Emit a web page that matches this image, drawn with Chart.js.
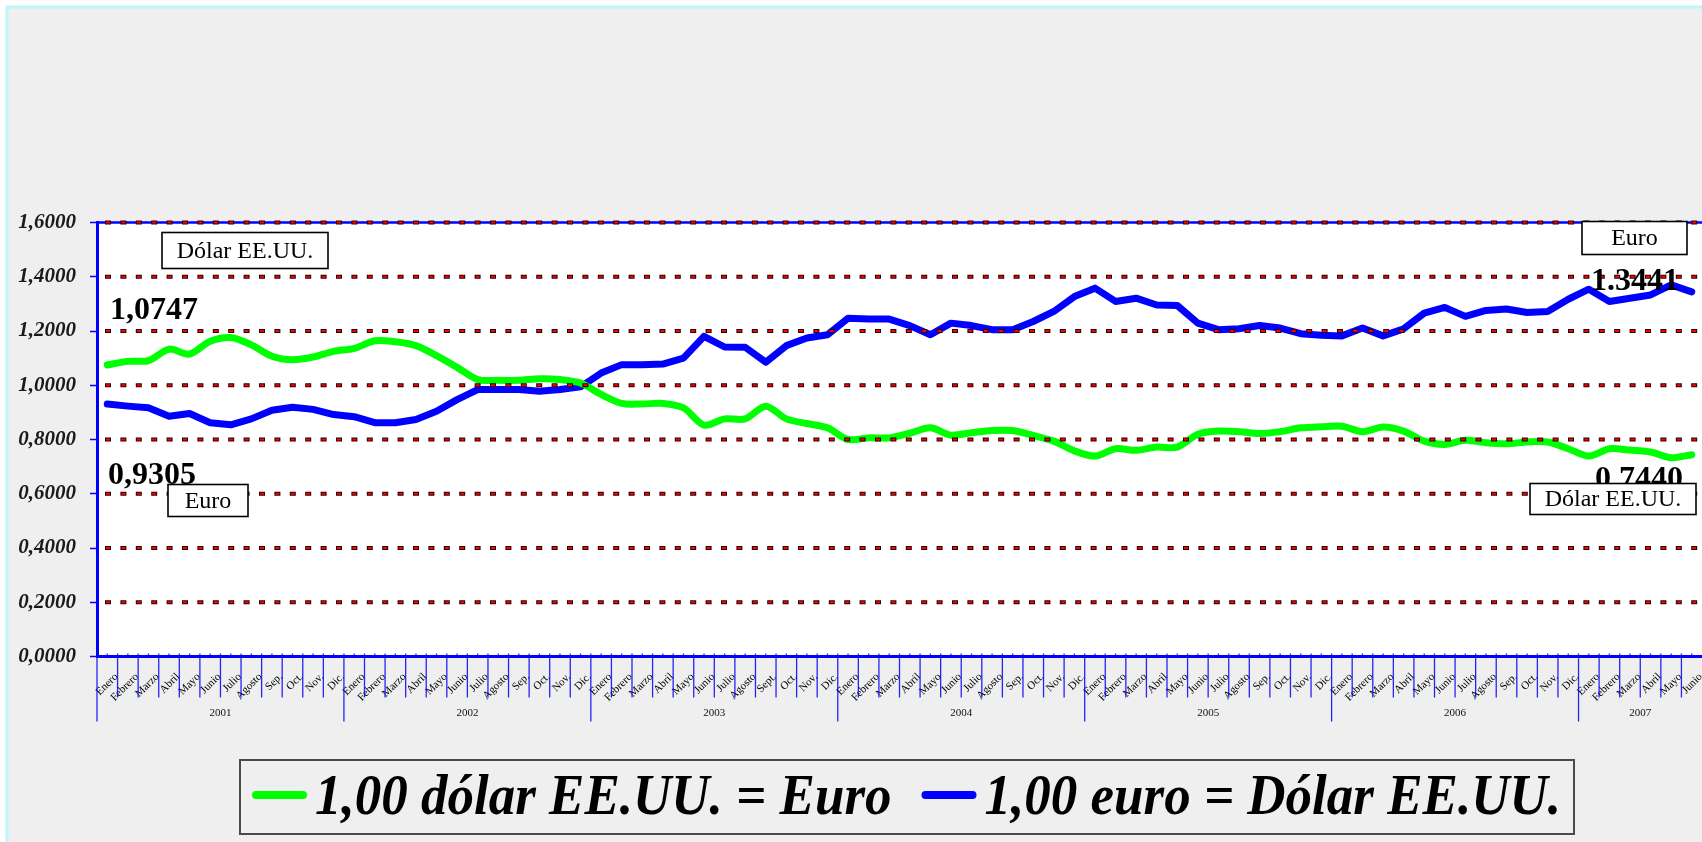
<!DOCTYPE html>
<html>
<head>
<meta charset="utf-8">
<script src="https://cdn.jsdelivr.net/npm/chart.js@4.4.1/dist/chart.umd.min.js"></script>
<style>
html,body{margin:0;padding:0;background:#fff;overflow:hidden}
canvas{display:block}
</style>
</head>
<body>
<canvas id="c" width="1702" height="842"></canvas>
<script>
// ---------------- DATA ----------------
const years = ['2001','2002','2003','2004','2005','2006','2007'];
const monthsStd  = ['Enero','Febrero','Marzo','Abril','Mayo','Junio','Julio','Agosto','Sep.','Oct.','Nov.','Dic.'];
const months2003 = ['Enero','Febrero','Marzo','Abril','Mayo','Junio','Julio','Agosto','Sept.','Oct.','Nov.','Dic.'];
const months2007 = ['Enero','Febrero','Marzo','Abril','Mayo','Junio'];
const monthLabels = [].concat(monthsStd, monthsStd, months2003, monthsStd, monthsStd, monthsStd, months2007);

const yTicks = [0, 0.2, 0.4, 0.6, 0.8, 1.0, 1.2, 1.4, 1.6];

const seriesNames = ['1,00 dólar EE.UU. = Euro', '1,00 euro = Dólar EE.UU.'];

// 1,00 dólar EE.UU. = Euro (green)
const usdToEur = [
  1.0747, 1.088, 1.091, 1.133, 1.115, 1.162, 1.176, 1.149, 1.107, 1.094, 1.104, 1.125,
  1.136, 1.164, 1.160, 1.146, 1.109, 1.066, 1.021, 1.018, 1.018, 1.024, 1.021, 1.008,
  0.966, 0.933, 0.931, 0.933, 0.917, 0.853, 0.876, 0.876, 0.923, 0.876, 0.859, 0.843,
  0.800, 0.806, 0.806, 0.823, 0.843, 0.816, 0.825, 0.833, 0.833, 0.815, 0.794, 0.758,
  0.739, 0.766, 0.760, 0.772, 0.772, 0.819, 0.831, 0.829, 0.822, 0.829, 0.843, 0.847,
  0.849, 0.829, 0.846, 0.831, 0.794, 0.782, 0.797, 0.788, 0.784, 0.791, 0.791, 0.766,
  0.739, 0.766, 0.761, 0.754, 0.733, 0.7440
];
// 1,00 euro = Dólar EE.UU. (blue)
const eurToUsd = [
  0.9305, 0.923, 0.917, 0.886, 0.896, 0.862, 0.854, 0.876, 0.908, 0.919, 0.911, 0.892,
  0.884, 0.862, 0.862, 0.874, 0.904, 0.947, 0.984, 0.984, 0.984, 0.978, 0.984, 0.994,
  1.045, 1.076, 1.076, 1.078, 1.100, 1.180, 1.141, 1.140, 1.085, 1.146, 1.174, 1.186,
  1.247, 1.244, 1.244, 1.220, 1.186, 1.229, 1.220, 1.205, 1.205, 1.235, 1.272, 1.327,
  1.358, 1.309, 1.321, 1.296, 1.294, 1.229, 1.205, 1.208, 1.220, 1.211, 1.190, 1.184,
  1.182, 1.211, 1.182, 1.208, 1.266, 1.287, 1.254, 1.276, 1.281, 1.268, 1.272, 1.317,
  1.354, 1.309, 1.321, 1.333, 1.370, 1.3441
];

const boxLabels = ['Dólar EE.UU.', 'Euro', 'Euro', 'Dólar EE.UU.'];
const valueLabels = ['1,0747', '0,9305', '1.3441', '0,7440'];

// ---------------- STYLE / PLUGINS ----------------
const SERIF = "'Liberation Serif','Times New Roman',serif";

function seg(ctx, x1, y1, x2, y2) { ctx.beginPath(); ctx.moveTo(x1, y1); ctx.lineTo(x2, y2); ctx.stroke(); }

function textBox(ctx, x, y, w, h, text) {
  ctx.save();
  ctx.setLineDash([]);
  ctx.fillStyle = '#ffffff';
  ctx.fillRect(x, y, w, h);
  ctx.strokeStyle = '#000000';
  ctx.lineWidth = 1.6;
  ctx.strokeRect(x, y, w, h);
  ctx.fillStyle = '#000000';
  ctx.font = '24px ' + SERIF;
  ctx.textAlign = 'center';
  ctx.textBaseline = 'middle';
  ctx.fillText(text, x + w / 2, y + h / 2 + 1);
  ctx.restore();
}
function bigNum(ctx, x, y, text) {
  ctx.save();
  ctx.fillStyle = '#000000';
  ctx.font = 'bold 32px ' + SERIF;
  ctx.textAlign = 'left';
  ctx.textBaseline = 'alphabetic';
  ctx.fillText(text, x, y);
  ctx.restore();
}

const bgPlugin = {
  id: 'bg',
  beforeDraw(chart) {
    const { ctx, chartArea: a, width, height } = chart;
    ctx.save();
    ctx.fillStyle = '#ffffff';
    ctx.fillRect(0, 0, width, height);
    ctx.fillStyle = '#efefef';
    ctx.fillRect(8, 8, width - 8, height - 8);
    ctx.strokeStyle = '#bff6f6';
    ctx.lineWidth = 3;
    ctx.beginPath(); ctx.moveTo(7, height); ctx.lineTo(7, 7); ctx.lineTo(width, 7); ctx.stroke();
    ctx.fillStyle = '#ffffff';
    ctx.fillRect(a.left, a.top, a.right - a.left, a.bottom - a.top);
    ctx.restore();
  }
};

const overlayPlugin = {
  id: 'overlay',
  afterDatasetsDraw(chart) {
    const { ctx, chartArea: a } = chart;
    const ys = chart.scales.y;
    ctx.save();
    // top border
    const yt = ys.getPixelForValue(yTicks[yTicks.length - 1]);
    ctx.strokeStyle = '#0000ff'; ctx.lineWidth = 2.5; ctx.setLineDash([]);
    seg(ctx, a.left, yt, a.right, yt);
    // dotted grid
    yTicks.forEach(v => {
      if (v <= 0) return;
      const y = ys.getPixelForValue(v);
      ctx.setLineDash([6, 9.4]); ctx.lineDashOffset = -8; ctx.lineWidth = 4; ctx.strokeStyle = '#2a0000';
      seg(ctx, a.left, y, a.right, y);
      ctx.setLineDash([4, 11.4]); ctx.lineDashOffset = -9; ctx.lineWidth = 2; ctx.strokeStyle = '#ff0000';
      seg(ctx, a.left, y, a.right, y);
    });
    ctx.restore();

    // annotations
    const L = a.left, T = a.top, R = a.right;
    bigNum(ctx, L + 13, T + 96, valueLabels[0]);
    textBox(ctx, L + 65, T + 10, 166, 36, boxLabels[0]);
    bigNum(ctx, L + 11, T + 261, valueLabels[1]);
    textBox(ctx, L + 71, T + 262, 80, 32, boxLabels[1]);

    textBox(ctx, R - 120, T - 1, 105, 33, boxLabels[2]);
    bigNum(ctx, R - 111, T + 67, valueLabels[2]);
    bigNum(ctx, R - 107, T + 265, valueLabels[3]);
    textBox(ctx, R - 172, T + 261, 166, 31, boxLabels[3]);
  },
  afterDraw(chart) {
    const { ctx, chartArea: a } = chart;
    const xs = chart.scales.x;
    const n = monthLabels.length;
    const half = (xs.getPixelForValue(1) - xs.getPixelForValue(0)) / 2;
    ctx.save();
    ctx.strokeStyle = 'rgba(0,0,255,0.85)';
    ctx.lineWidth = 1.3;
    for (let i = 0; i < n; i++) {
      const x = xs.getPixelForValue(i) - half;
      const len = (i % 12 === 0) ? 65 : 41;
      seg(ctx, x, a.bottom - 3, x, a.bottom + len);
      const c = xs.getPixelForValue(i);
      seg(ctx, c, a.bottom - 3, c, a.bottom);
    }
    // year labels
    ctx.fillStyle = '#111';
    ctx.font = '11px ' + SERIF;
    ctx.textAlign = 'center';
    ctx.textBaseline = 'middle';
    years.forEach((yr, k) => {
      const first = k * 12, last = Math.min(k * 12 + 11, n - 1);
      const cx = (xs.getPixelForValue(first) + xs.getPixelForValue(last)) / 2;
      ctx.fillText(yr, cx, a.bottom + 57);
    });
    ctx.restore();

    // legend
    ctx.save();
    const LG = { left: 240, top: 760, w: 1334, h: 74 };
    ctx.strokeStyle = '#4a4a4a';
    ctx.lineWidth = 2;
    ctx.strokeRect(LG.left, LG.top, LG.w, LG.h);
    let x = 252;
    chart.data.datasets.forEach(ds => {
      ctx.strokeStyle = ds.borderColor;
      ctx.lineWidth = 8;
      ctx.lineCap = 'round';
      seg(ctx, x + 4, 795, x + 51, 795);
      x += 63;
      ctx.font = 'italic bold 53px ' + SERIF;
      ctx.fillStyle = '#000';
      ctx.textAlign = 'left';
      ctx.textBaseline = 'alphabetic';
      ctx.save();
      ctx.translate(x, 814);
      ctx.scale(1, 1.07);
      ctx.fillText(ds.label, 0, 0);
      ctx.restore();
      x += ctx.measureText(ds.label).width + 30;
    });
    ctx.restore();
  }
};

new Chart(document.getElementById('c'), {
  type: 'line',
  data: {
    labels: monthLabels,
    datasets: [
      { label: seriesNames[0], data: usdToEur, borderColor: '#00ff00', backgroundColor: '#00ff00',
        borderWidth: 7, tension: 0.3, pointRadius: 0, borderCapStyle: 'round', borderJoinStyle: 'round', fill: false },
      { label: seriesNames[1], data: eurToUsd, borderColor: '#0000ff', backgroundColor: '#0000ff',
        borderWidth: 7, tension: 0, pointRadius: 0, borderCapStyle: 'round', borderJoinStyle: 'round', fill: false }
    ]
  },
  options: {
    responsive: false,
    animation: false,
    devicePixelRatio: 1,
    layout: { padding: { top: 222.5, left: 0, right: 0, bottom: 0 } },
    plugins: { legend: { display: false }, tooltip: { enabled: false }, title: { display: false } },
    scales: {
      x: {
        type: 'category',
        offset: true,
        grid: { display: true, drawOnChartArea: false, drawTicks: false, offset: true },
        border: { display: true, color: '#0000ff', width: 3 },
        ticks: { autoSkip: false, maxRotation: 45, minRotation: 45, padding: 14, labelOffset: 9,
                 font: { family: SERIF, size: 11 }, color: '#000' },
        afterFit(s) { s.height = 185.5; s.paddingLeft = 0; s.paddingRight = 0; }
      },
      y: {
        min: 0, max: 1.6,
        afterBuildTicks(s) { s.ticks = yTicks.map(v => ({ value: v })); },
        ticks: { padding: 14, color: '#1a1a1a',
                 font: { family: SERIF, size: 21, style: 'italic', weight: 'bold' },
                 callback: v => Number(v).toFixed(4).replace('.', ',') },
        grid: { drawOnChartArea: false, drawTicks: true, tickLength: 7, tickColor: '#0000ff', tickWidth: 1.5 },
        border: { display: true, color: '#0000ff', width: 3 },
        afterFit(s) { s.width = 97; }
      }
    }
  },
  plugins: [bgPlugin, overlayPlugin]
});
</script>
</body>
</html>
